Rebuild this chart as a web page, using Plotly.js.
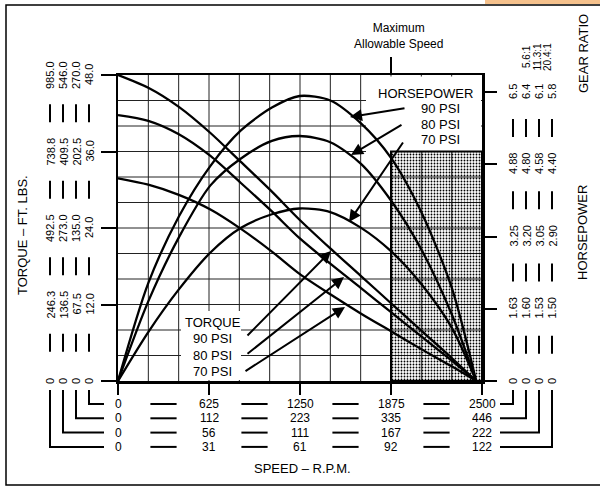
<!DOCTYPE html>
<html><head><meta charset="utf-8">
<script src="https://cdn.plot.ly/plotly-3.0.1.min.js"></script>
<style>html,body{margin:0;padding:0;background:#fff}#chart{width:600px;height:487px}</style>
</head><body><div id="chart"></div><script>
// ---- data ----
const speedRpm    = [0,208,418,635,842,1057,1247,1458,1667,1875,2083,2292,2460];
const torque90psi = [48,46.0,43.0,38.9,34.4,29.7,25.3,20.8,16.5,12.2,7.9,3.6,0];
const torque80psi = [41.7,40.8,38.7,35.3,31.1,26.6,22.4,18.4,14.6,10.8,7.0,3.2,0];
const torque70psi = [31.8,30.8,29.2,26.9,23.9,20.3,16.8,13.6,10.6,7.8,5.0,2.3,0];
const hp90psi = [0,2.20,3.70,4.84,5.63,6.15,6.41,6.31,5.80,5.02,3.80,2.10,0];
const hp80psi = [0,1.79,3.23,4.40,5.00,5.40,5.51,5.37,4.89,4.06,2.96,1.50,0];
const hp70psi = [0,1.10,2.06,2.89,3.44,3.75,3.88,3.80,3.45,2.92,2.18,1.20,0];
const maxSpeedRpm = 1875, maxSpeedTorque = 36;

const speedTickVals = [0,625,1250,1875,2500];
const speedRow1 = ['0','625','1250','1875','2500'];
const speedRow2 = ['0','112','223','335','446'];
const speedRow3 = ['0','56','111','167','222'];
const speedRow4 = ['0','31','61','92','122'];

const torqueTickVals = [0,12,24,36,48];
const torqueCol20 = ['0','246.3','492.5','738.8','985.0'];
const torqueCol11 = ['0','136.5','273.0','409.5','546.0'];
const torqueCol5  = ['0','67.5','135.0','202.5','270.0'];
const torqueBase  = ['0','12.0','24.0','36.0','48.0'];

const hpTickVals = [0,1.63,3.25,4.88,6.5];
const hpBase = ['0','1.63','3.25','4.88','6.5'];
const hp5    = ['0','1.60','3.20','4.80','6.4'];
const hp11   = ['0','1.53','3.05','4.58','6.1'];
const hp20   = ['0','1.50','2.90','4.40','5.8'];
const gearRatios = ['5.6:1','11.3:1','20.4:1'];

// ---- layout helpers (pixel -> paper) ----
const FONT = 'Arial, "Liberation Sans", Helvetica, sans-serif';
const L=118, R=482, T=75, B=381, W=R-L, H=B-T;
const P = x => (x-L)/W, Q = y => (B-y)/H;
const HPMAX = 6.5*H/(B-92);

const line = {color:'#000', width:2.3, shape:'spline', smoothing:0.8};
const traces = [
  {x:[maxSpeedRpm,2500,2500,maxSpeedRpm,maxSpeedRpm], y:[0,0,maxSpeedTorque,maxSpeedTorque,0],
   mode:'lines', fill:'toself', fillcolor:'rgba(0,0,0,0)',
   fillpattern:{shape:'.', fgcolor:'#000', bgcolor:'rgba(0,0,0,0)', size:3, solidity:0.3},
   line:{color:'#000', width:2}},
  {x:speedRpm, y:torque90psi, mode:'lines', line},
  {x:speedRpm, y:torque80psi, mode:'lines', line},
  {x:speedRpm, y:torque70psi, mode:'lines', line},
  {x:speedRpm, y:hp90psi, yaxis:'y2', mode:'lines', line},
  {x:speedRpm, y:hp80psi, yaxis:'y2', mode:'lines', line},
  {x:speedRpm, y:hp70psi, yaxis:'y2', mode:'lines', line}
];

const ann = [], shapes = [];
const txt = (o) => Object.assign({showarrow:false, font:{family:FONT, size:11, color:'#000'}, xanchor:'center', yanchor:'middle', borderpad:0}, o);

// grid (12 x 12) drawn below traces, then white legend boxes over it
const gridStyle = {color:'#222', width:1};
for (let k=1;k<12;k++){
  shapes.push({type:'line', xref:'x', yref:'paper', x0:k*2500/12, x1:k*2500/12, y0:0, y1:1, line:gridStyle, layer:'below'});
  shapes.push({type:'line', xref:'paper', yref:'y', x0:0, x1:1, y0:k*4, y1:k*4, line:gridStyle, layer:'below'});
}
shapes.push({type:'rect', xref:'paper', yref:'paper', x0:P(181), x1:P(241), y0:Q(380), y1:Q(311), fillcolor:'#fff', line:{width:0}, layer:'below'});
shapes.push({type:'rect', xref:'paper', yref:'paper', x0:P(366), x1:P(481), y0:Q(152), y1:Q(76.5), fillcolor:'#fff', line:{width:0}, layer:'below'});

// left torque columns
const leftCols = [[50,torqueCol20],[63,torqueCol11],[76,torqueCol5],[89,torqueBase]];
leftCols.forEach(([cx, labels]) => {
  labels.forEach((t,i) => ann.push(txt({x:P(cx), xref:'paper', y:torqueTickVals[i], yref:'y', text:t, textangle:-90})));
  for (let k=0;k<4;k++){
    const m = (torqueTickVals[k]+torqueTickVals[k+1])/2;
    shapes.push({type:'line', xref:'paper', yref:'y', x0:P(cx), x1:P(cx), y0:m-1.4, y1:m+1.4, line:{color:'#000', width:2}});
  }
});
// right HP columns
const rightCols = [[513,hpBase],[526,hp5],[539,hp11],[552,hp20]];
rightCols.forEach(([cx, labels]) => {
  labels.forEach((t,i) => ann.push(txt({x:P(cx), xref:'paper', y:hpTickVals[i], yref:'y2', text:t, textangle:-90})));
  for (let k=0;k<4;k++){
    const m = (hpTickVals[k]+hpTickVals[k+1])/2;
    shapes.push({type:'line', xref:'paper', yref:'y2', x0:P(cx), x1:P(cx), y0:m-0.2, y1:m+0.2, line:{color:'#000', width:2}});
  }
});
// gear ratios
[526,536.5,547].forEach((cx,i) => ann.push(txt({x:P(cx), xref:'paper', y:Q(57), yref:'paper', text:gearRatios[i], textangle:-90, font:{family:FONT,size:10,color:'#000'}})));

// bottom speed rows
const rowsY = [404,418.3,432.6,446.9];
[speedRow1,speedRow2,speedRow3,speedRow4].forEach((row,r) => {
  row.forEach((t,i) => ann.push(txt({x:speedTickVals[i], xref:'x', y:Q(rowsY[r]), yref:'paper', text:t, font:{family:FONT,size:12,color:'#000'}})));
  for (let k=0;k<4;k++){
    const m = (speedTickVals[k]+speedTickVals[k+1])/2;
    shapes.push({type:'line', xref:'x', yref:'paper', x0:m-90, x1:m+90, y0:Q(rowsY[r]), y1:Q(rowsY[r]), line:{color:'#000', width:2}});
  }
});
// brackets
for (let i=0;i<4;i++){
  const lx = leftCols[3-i][0], rx = rightCols[i][0], ry = rowsY[i];
  shapes.push({type:'path', xref:'paper', yref:'paper', path:`M ${P(lx)},${Q(390)} L ${P(lx)},${Q(ry)} L ${P(104)},${Q(ry)}`, line:{color:'#000', width:2}});
  shapes.push({type:'path', xref:'paper', yref:'paper', path:`M ${P(rx)},${Q(390)} L ${P(rx)},${Q(ry)} L ${P(500)},${Q(ry)}`, line:{color:'#000', width:2}});
}

// titles
const tfont = {family:FONT, size:13, color:'#000'};
ann.push(txt({x:P(23), xref:'paper', y:Q(235), yref:'paper', text:'TORQUE – FT. LBS.', textangle:-90, font:tfont}));
ann.push(txt({x:P(583), xref:'paper', y:Q(233), yref:'paper', text:'HORSEPOWER', textangle:-90, font:tfont}));
ann.push(txt({x:P(583), xref:'paper', y:Q(54), yref:'paper', text:'GEAR RATIO', textangle:-90, font:tfont}));
ann.push(txt({x:P(302), xref:'paper', y:Q(469), yref:'paper', text:'SPEED – R.P.M.', font:tfont}));
ann.push(txt({x:P(398), xref:'paper', y:Q(36), yref:'paper', text:'Maximum<br>Allowable Speed', font:{family:FONT,size:12,color:'#000'}}));

// legends inside plot
const lf = {family:FONT, size:13, color:'#000'};
ann.push(txt({x:P(474), xref:'paper', y:Q(93), yref:'paper', text:'HORSEPOWER', xanchor:'right', font:lf}));
ann.push(txt({x:P(440), xref:'paper', y:Q(108.5), yref:'paper', text:'90 PSI', font:lf}));
ann.push(txt({x:P(440), xref:'paper', y:Q(124), yref:'paper', text:'80 PSI', font:lf}));
ann.push(txt({x:P(440), xref:'paper', y:Q(139.5), yref:'paper', text:'70 PSI', font:lf}));
ann.push(txt({x:P(212.5), xref:'paper', y:Q(322), yref:'paper', text:'TORQUE', font:lf}));
ann.push(txt({x:P(212.5), xref:'paper', y:Q(338.5), yref:'paper', text:'90 PSI', font:lf}));
ann.push(txt({x:P(212.5), xref:'paper', y:Q(355), yref:'paper', text:'80 PSI', font:lf}));
ann.push(txt({x:P(212.5), xref:'paper', y:Q(371.5), yref:'paper', text:'70 PSI', font:lf}));

// arrows [headX, headY, tailX, tailY] in pixels
[[350,117,406,108],[351,155,403,124],[349,222,404,141],
 [331,251,246,337],[344,277,246,355],[345,307,244,372]].forEach(([hx,hy,tx,ty]) => {
  ann.push({x:P(hx), y:Q(hy), xref:'paper', yref:'paper', text:'', showarrow:true,
    ax:tx-hx, ay:ty-hy, arrowhead:2, arrowsize:1.2, arrowwidth:2, arrowcolor:'#000', standoff:0, startstandoff:0});
});

// max allowable speed pointer
shapes.push({type:'line', xref:'x', yref:'paper', x0:maxSpeedRpm, x1:maxSpeedRpm, y0:1, y1:Q(57), line:{color:'#000', width:2}});
// page frame and tab
shapes.push({type:'path', xref:'paper', yref:'paper', path:`M ${P(600)},${Q(5)} L ${P(6)},${Q(5)} L ${P(6)},${Q(485)} L ${P(600)},${Q(485)}`, line:{color:'#000', width:1.5}});
shapes.push({type:'rect', xref:'paper', yref:'paper', x0:P(485), x1:P(600), y0:Q(4), y1:Q(0), fillcolor:'#f5c18c', line:{width:0}});

const layout = {
  width:600, height:487, margin:{l:L, r:600-R, t:T, b:487-B},
  paper_bgcolor:'#fff', plot_bgcolor:'#fff', showlegend:false, hovermode:false,
  xaxis:{range:[0,2500], tickmode:'linear', tick0:0, dtick:625, ticks:'outside', ticklen:11, tickwidth:2, tickcolor:'#000',
    showticklabels:false, showgrid:false, zeroline:false,
    showline:true, linecolor:'#000', linewidth:2.5, mirror:true},
  yaxis:{range:[0,48], tickmode:'linear', tick0:0, dtick:12, ticks:'outside', ticklen:15, tickwidth:2, tickcolor:'#000',
    showticklabels:false, showgrid:false, zeroline:false,
    showline:true, linecolor:'#000', linewidth:2.5, mirror:true},
  yaxis2:{range:[0,HPMAX], overlaying:'y', side:'right', tickmode:'array', tickvals:hpTickVals,
    ticks:'outside', ticklen:14, tickwidth:2, tickcolor:'#000', showticklabels:false, showgrid:false, zeroline:false, showline:false},
  annotations:ann, shapes:shapes
};
Plotly.newPlot('chart', traces, layout, {staticPlot:true, displayModeBar:false});
</script></body></html>
